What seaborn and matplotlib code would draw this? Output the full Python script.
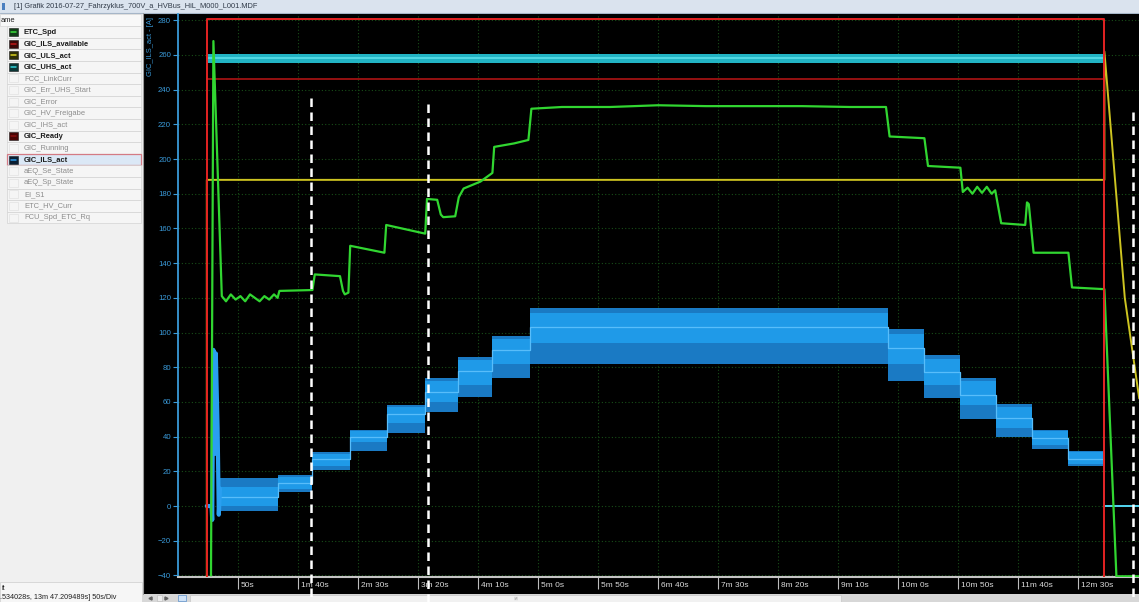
import matplotlib
matplotlib.use("Agg")
import matplotlib.pyplot as plt
import matplotlib.transforms as mtransforms
from matplotlib.patches import Rectangle
import seaborn as sns

# ---------------- measurement data (time in s) ----------------
# GIC_Ready (digital, drawn full height)
ready_t = [24, 24, 772, 772]
ready_v = [-41, 281, 281, -41]

# GIC_ILS_available
avail_t = [24, 772]
avail_v = [246, 246]

# GIC_UHS_act (level and noise band)
uhs_t = [24, 772, 772, 801]
uhs_v = [258, 258, 0, 0]
uhs_band_lo = [255.3, 255.3]
uhs_band_hi = [260.8, 260.8]

# GIC_ULS_act
uls_t = [24, 24, 772, 772, 789, 801]
uls_v = [-41, 188, 188, 262, 120, 62]

# ETC_Spd
spd_t = [27.5, 29.5, 36.5,
         40, 44, 48, 52, 56, 60, 64, 68, 72, 76, 80, 83,
         84.5, 112, 114, 135, 137.5, 139, 142, 143.5, 172, 173.5, 206,
         207.5, 216, 219, 221, 231, 234, 238, 245, 252, 260, 262, 263.5, 280, 292,
         294.5, 320, 360, 400, 440, 480, 520, 560, 590,
         593, 622, 625, 652, 654, 658, 662, 666, 670, 674, 678, 681,
         686, 706, 707.5, 709, 713, 742, 745, 772, 782, 801]
spd_v = [-40, 268, 121,
         118, 122, 119, 121, 118, 122, 120, 118, 121, 119, 122, 120,
         124, 124.5, 133.5, 132.5, 124, 122, 123, 150, 146, 162, 157,
         177, 176.5, 168, 166.5, 167, 178, 183, 185, 187, 191, 192, 207, 209, 211,
         229, 230, 230, 231, 230.5, 230.5, 230.5, 230, 230,
         213, 212, 196, 195, 181, 183.5, 180, 184, 180.5, 184, 180, 182,
         163, 162, 175, 174, 146, 146, 126, 125, -40.5, -40.5]

# GIC_ILS_act: current steps with their noise envelopes
ils_start = [35, 83, 112, 143, 174, 206, 233, 262, 293, 592, 622, 652, 682, 712, 742]
ils_end = 772
ils_level = [5, 13, 27, 40, 53, 66, 78, 90, 103, 91, 77, 64, 51, 39, 27]
ils_lo = [0, 10, 23, 37, 48, 60, 70, 82, 94, 82, 70, 58, 45, 35, 24]
ils_hi = [11, 17, 30, 43, 57, 72, 84, 96, 111, 99, 85, 72, 57, 43, 31]
ils_min = [-3, 8, 21, 32, 42, 54, 63, 74, 82, 72, 62, 50, 40, 33, 23]
ils_max = [16, 18, 31, 44, 58, 74, 86, 98, 114, 102, 87, 74, 59, 44, 32]
ils_onset_t = [24, 28, 28.5, 29.5, 30.5, 31.5, 33, 34, 35]
ils_onset_v = [0, 0, -8, 90, 30, 88, 45, -5, 10]
ils_tail_t = [772, 772, 801]
ils_tail_v = [27, 0, 0]

# cursor markers
marker_t = [110.8, 208.3, 795.8]
marker_top = [235, 232, 227]

xtick_t = [50, 100, 150, 200, 250, 300, 350, 400, 450, 500, 550, 600, 650, 700, 750]
xtick_lbl = ["50s", "1m 40s", "2m 30s", "3m 20s", "4m 10s", "5m 0s", "5m 50s",
             "6m 40s", "7m 30s", "8m 20s", "9m 10s", "10m 0s", "10m 50s",
             "11m 40s", "12m 30s"]
ytick_v = [-40, -20, 0, 20, 40, 60, 80, 100, 120, 140, 160, 180, 200, 220, 240, 260, 280]

channels = ["ETC_Spd", "GIC_ILS_available", "GIC_ULS_act", "GIC_UHS_act",
            "FCC_LinkCurr", "GIC_Err_UHS_Start", "GIC_Error", "GIC_HV_Freigabe",
            "GIC_IHS_act", "GIC_Ready", "GIC_Running", "GIC_ILS_act",
            "aEQ_Se_State", "aEQ_Sp_State", "EI_S1", "ETC_HV_Curr", "FCU_Spd_ETC_Rq"]
channel_icon = {
    "ETC_Spd": ("#123d18", "#3be03b"),
    "GIC_ILS_available": ("#3a0808", "#c01818"),
    "GIC_ULS_act": ("#2f2f08", "#d8d020"),
    "GIC_UHS_act": ("#0b3636", "#30d0d8"),
    "GIC_Ready": ("#4a0505", "#8a1010"),
    "GIC_ILS_act": ("#0a1e33", "#2c9be8"),
}
selected_channel = "GIC_ILS_act"

title_text = "[1] Grafik 2016-07-27_Fahrzyklus_700V_a_HVBus_HiL_M000_L001.MDF"
status_lines = ["it", ".534028s, 13m 47.209489s] 50s/Div"]

# ---------------- figure ----------------
sns.set_theme(style="dark")
plt.rcParams["font.family"] = ["Liberation Sans", "DejaVu Sans"]

W, H = 1139, 602
fig = plt.figure(figsize=(W / 100, H / 100), dpi=100)
fig.patch.set_facecolor("#f0f0f0")

ui = fig.add_axes([0, 0, 1, 1], zorder=0)
ui.set_xlim(0, W)
ui.set_ylim(H, 0)
ui.axis("off")


def box(x0, y0, x1, y1, fc, ec="none", lw=0.0, z=1):
    ui.add_patch(Rectangle((x0, y0), x1 - x0, y1 - y0, facecolor=fc,
                           edgecolor=ec, linewidth=lw, zorder=z))


# window title bar
box(0, 0, W, 12.5, "#dae3ee")
ui.plot([0, W], [12.5, 12.5], color="#a6b6c8", lw=0.8, zorder=2)
box(1.5, 3, 4.5, 10, "#4a7fc0", z=2)
ui.text(14, 6.3, title_text, fontsize=5.3, color="#303a48", va="center", ha="left", zorder=3)

# channel list panel
box(0, 13, 142.5, 582, "#f0f0f0")
ui.plot([142.5, 142.5], [13, 594], color="#9a9a9a", lw=0.8, zorder=2)
box(0, 14, 141, 25.5, "#f8f8f8", ec="#d6d6d6", lw=0.5, z=2)
ui.text(1, 20, "ame", fontsize=5.4, color="#202020", va="center", ha="left", zorder=3)
row_h = 11.6
for i, name in enumerate(channels):
    yc = 32 + row_h * i
    sel = name == selected_channel
    fc = "#dbe8f6" if sel else "#f5f5f5"
    ec = "#d47b84" if sel else "#d3d3d3"
    box(7, yc - row_h / 2, 140.5, yc + row_h / 2, fc, ec=ec, lw=0.9 if sel else 0.5, z=2)
    if name in channel_icon:
        dark, bright = channel_icon[name]
        box(9, yc - 4, 18, yc + 4, dark, ec="#1a1a1a", lw=0.4, z=3)
        ui.plot([11, 16], [yc, yc], color=bright, lw=1.1, zorder=4)
        ui.text(24, yc, name, fontsize=5.4, fontweight="bold", color="#1c1c1c",
                va="center", ha="left", zorder=4)
    else:
        box(9, yc - 4, 18, yc + 4, "none", ec="#e2e2e2", lw=0.5, z=3)
        ui.text(24, yc, name, fontsize=5.4, color="#8c8c8c", va="center", ha="left", zorder=4)

# status box lower left
box(0, 582, 142, H, "#f6f6f6", ec="#cdcdcd", lw=0.5, z=2)
ui.text(2, 588.5, status_lines[0], fontsize=5.2, color="#202020", va="center", ha="left", zorder=3)
ui.text(0, 597.5, status_lines[1], fontsize=5.2, color="#202020", va="center", ha="left", zorder=3)

# black plotting background and scroll bar
box(143, 13, W, 594, "black")
box(143, 594, W, H, "#d7d7d7")
box(190, 594.5, 841, H, "#f1f1f1", ec="#c6c6c6", lw=0.5, z=2)
ui.plot([515, 515, 517, 517], [597, 600, 597, 600], color="#b0b0b0", lw=0.5, zorder=3)
ui.plot([150], [598], marker="<", ms=2.2, color="#606060", zorder=3)
ui.plot([166], [598], marker=">", ms=2.2, color="#606060", zorder=3)
box(157, 595, 162, 601, "#ececec", ec="#b8b8b8", lw=0.4, z=3)
box(178, 595, 186, 601, "#cfe2f7", ec="#5b8fc9", lw=0.5, z=3)

# ---------------- signal axes ----------------
ax = fig.add_axes([178 / W, (H - 577) / H, (W - 178) / W, (577 - 14) / H], zorder=2)
ax.set_facecolor("black")
ax.set_xlim(0, (W - 178) / 1.2)
ax.set_ylim(-40.9, 283.6)

ax.set_axisbelow(True)
ax.grid(True, color="#184e18", lw=0.8, ls=(0, (1, 2)))
for side in ("top", "right"):
    ax.spines[side].set_visible(False)
ax.spines["left"].set_color("#3a9ad9")
ax.spines["left"].set_linewidth(1.3)
ax.spines["bottom"].set_color("#c4c4c4")
ax.spines["bottom"].set_linewidth(1.5)

ax.set_yticks(ytick_v)
ax.tick_params(axis="y", colors="#3a9ad9", labelsize=5.6, length=3.5, width=0.8,
               pad=1.5, direction="out", left=True)
ax.set_xticks(xtick_t, xtick_lbl)
ax.tick_params(axis="x", colors="#bdbdbd", labelcolor="#dadada", labelsize=6.0,
               length=8.5, width=0.8, pad=-4.8, direction="out", bottom=True)
shift = mtransforms.ScaledTranslation(0.03, 0, fig.dpi_scale_trans)
for lbl in ax.get_xticklabels():
    lbl.set_horizontalalignment("left")
    lbl.set_transform(lbl.get_transform() + shift)

fig.text(150 / W, 1 - 17 / H, "GIC_ILS_act - [A]", rotation=90, va="top", ha="center",
         fontsize=5.4, color="#3a9ad9")

# GIC_ILS_act: spike envelope, dense band, centre trace
xs = ils_start + [ils_end]
ax.fill_between(xs, ils_min + [ils_min[-1]], ils_max + [ils_max[-1]], step="post",
                color="#1a7ac4", lw=0, zorder=2)
ax.fill_between(xs, ils_lo + [ils_lo[-1]], ils_hi + [ils_hi[-1]], step="post",
                color="#1f9ae8", lw=0, zorder=2.1)
ax.step(xs, ils_level + [ils_level[-1]], where="post", color="#58bdfa", lw=0.9, zorder=2.2)
sns.lineplot(x=ils_onset_t, y=ils_onset_v, estimator=None, sort=False, ax=ax,
             color="#2a9ff0", lw=3.0, zorder=2.3)
sns.lineplot(x=ils_tail_t, y=ils_tail_v, estimator=None, sort=False, ax=ax,
             color="#2a9ff0", lw=1.4, zorder=2.3)

# GIC_ILS_available
sns.lineplot(x=avail_t, y=avail_v, estimator=None, sort=False, ax=ax,
             color="#a01212", lw=1.3, zorder=3)

# GIC_UHS_act
ax.fill_between(uhs_t[:2], uhs_band_lo, uhs_band_hi, color="#22b4c4", lw=0, zorder=3)
sns.lineplot(x=uhs_t, y=uhs_v, estimator=None, sort=False, ax=ax,
             color="#5fe2ec", lw=1.1, zorder=3.1)

# GIC_ULS_act
sns.lineplot(x=uls_t, y=uls_v, estimator=None, sort=False, ax=ax,
             color="#cdc421", lw=1.4, zorder=4)

# ETC_Spd
sns.lineplot(x=spd_t, y=spd_v, estimator=None, sort=False, ax=ax,
             color="#31d631", lw=1.6, zorder=5)

# GIC_Ready
sns.lineplot(x=ready_t, y=ready_v, estimator=None, sort=False, ax=ax,
             color="#e42222", lw=1.4, zorder=6)

# cursor markers
for t, top in zip(marker_t, marker_top):
    ax.plot([t, t], [top, -56], color="white", lw=1.8, dashes=(3.4, 2.2),
            clip_on=False, zorder=10)

ax.set_xlabel("")
ax.set_ylabel("")
fig.savefig("out.png", dpi=100, facecolor=fig.get_facecolor())
